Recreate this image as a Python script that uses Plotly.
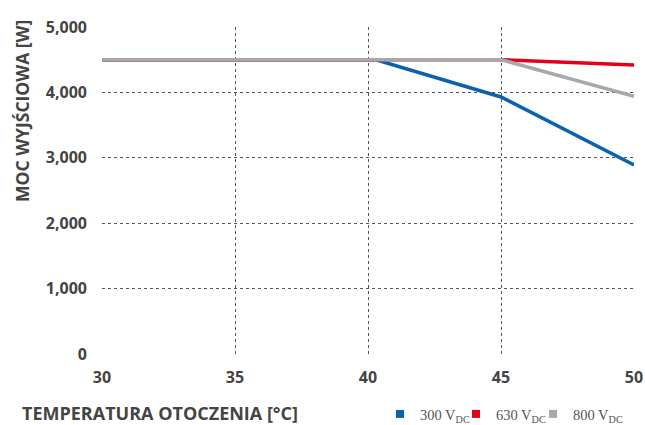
import plotly.graph_objects as go

temps_300 = [30, 40.3, 45, 50]
power_300 = [4500, 4500, 3930, 2890]
temps_630 = [30, 45, 50]
power_630 = [4500, 4500, 4420]
temps_800 = [30, 45, 50]
power_800 = [4500, 4500, 3940]
series_names = ["300 V<sub>DC</sub>", "630 V<sub>DC</sub>", "800 V<sub>DC</sub>"]
colors = ["#0a62ad", "#e2001a", "#a5a9ad"]
x_ticks = [30, 35, 40, 45, 50]
y_ticks = [0, 1000, 2000, 3000, 4000, 5000]

fig = go.Figure()
data = [(temps_300, power_300), (temps_630, power_630), (temps_800, power_800)]
for (xs, ys), c in zip(data, colors):
    fig.add_trace(go.Scatter(x=xs, y=ys, mode="lines", line=dict(color=c, width=3.5),
                             showlegend=False, hoverinfo="skip"))

legend_ids = ["legend", "legend2", "legend3"]
legend_px = [380, 456, 533]  # left pixel of each legend box
for name, c, lid in zip(series_names, colors, legend_ids):
    fig.add_trace(go.Scatter(x=[None], y=[None], mode="markers", name=name, legend=lid,
                             marker=dict(symbol="square", size=8, color=c)))

W, H = 645, 425
L, R, T, B = 102, 11, 27, 71
tick_font = dict(family="Open Sans", size=16, color="#444444", weight="bold")
title_font = dict(family="Open Sans", size=18, color="#444444", weight="bold")
leg_font = dict(family="Liberation Serif", size=14.5, color="#555555")

layout_legends = {}
for lid, px in zip(legend_ids, legend_px):
    layout_legends[lid] = dict(orientation="h", xref="container", yref="container",
                               x=px / W, xanchor="left", y=1 - 414 / H, yanchor="middle",
                               font=leg_font, itemwidth=30, bgcolor="rgba(0,0,0,0)",
                               borderwidth=0)

fig.update_layout(
    width=W, height=H,
    margin=dict(l=L, r=R, t=T, b=B, autoexpand=False),
    plot_bgcolor="white", paper_bgcolor="white",
    xaxis=dict(range=[30, 50], tickvals=x_ticks, showgrid=True, gridcolor="#555555",
               griddash="dot", gridwidth=1.4, zeroline=False, showline=False,
               tickfont=tick_font, ticks="", ticklabelstandoff=12, automargin=False),
    yaxis=dict(range=[0, 5000], tickvals=y_ticks, tickformat=",", showgrid=True,
               gridcolor="#555555", griddash="dot", gridwidth=1.4, zeroline=False,
               showline=False, tickfont=tick_font, ticks="", ticklabelstandoff=14,
               automargin=False),
    showlegend=True,
    **layout_legends,
)
fig.add_annotation(text="TEMPERATURA OTOCZENIA [°C]", xref="paper", yref="paper",
                   x=(20 - L) / (W - L - R), xanchor="left",
                   y=(H - B - 413) / (H - T - B), yanchor="middle", showarrow=False,
                   font=title_font)
fig.add_annotation(text="MOC WYJŚCIOWA [W]", xref="paper", yref="paper",
                   x=(22 - L) / (W - L - R), xanchor="center",
                   y=(H - B - 111) / (H - T - B), yanchor="middle", textangle=-90,
                   showarrow=False, font=dict(family="Open Sans", size=17.5,
                                              color="#444444", weight="bold"))
fig.write_html("out.html", config={"displayModeBar": False},
               post_script="document.body.style.margin='0';")
